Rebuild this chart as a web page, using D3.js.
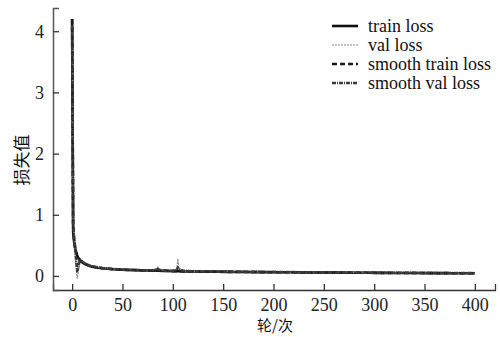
<!DOCTYPE html>
<html>
<head>
<meta charset="utf-8">
<script src="https://cdn.jsdelivr.net/npm/d3@7"></script>
<style>
  body { margin: 0; background: #fff; }
  svg { display: block; }
  .serif { font-family: "Liberation Serif", "Times New Roman", Tinos, "DejaVu Serif", serif; }
  .cjk { font-family: "Noto Sans CJK SC", "Noto Sans CJK JP", sans-serif; }
</style>
</head>
<body>
<script>
// * DATA
const epochs = [
  0, 1, 2, 3, 4, 5, 6, 7, 8, 9,
  10, 12, 14, 16, 18, 20, 25, 30, 35, 40,
  45, 50, 55, 60, 65, 70, 75, 80, 84, 85,
  86, 90, 95, 100, 104, 105, 106, 110, 115, 120,
  125, 130, 135, 140, 145, 150, 155, 160, 165, 170,
  175, 180, 185, 190, 195, 200, 205, 210, 215, 220,
  225, 230, 235, 240, 245, 250, 255, 260, 265, 270,
  275, 280, 285, 290, 295, 300, 305, 310, 315, 320,
  325, 330, 335, 340, 345, 350, 355, 360, 365, 370,
  375, 380, 385, 390, 395, 400
];

const trainLoss = [
  4.20, 0.72, 0.55, 0.45, 0.38, 0.33, 0.30, 0.27, 0.25, 0.235,
  0.22, 0.20, 0.185, 0.17, 0.16, 0.15, 0.135, 0.125, 0.118, 0.11,
  0.107, 0.102, 0.098, 0.096, 0.093, 0.091, 0.089, 0.087, 0.090, 0.088,
  0.086, 0.083, 0.081, 0.078, 0.080, 0.079, 0.077, 0.075, 0.074, 0.072,
  0.073, 0.070, 0.069, 0.070, 0.068, 0.067, 0.069, 0.066, 0.065, 0.066,
  0.064, 0.063, 0.064, 0.062, 0.061, 0.062, 0.060, 0.060, 0.059, 0.060,
  0.058, 0.057, 0.058, 0.056, 0.056, 0.055, 0.056, 0.054, 0.054, 0.053,
  0.054, 0.052, 0.052, 0.051, 0.052, 0.050, 0.050, 0.049, 0.050, 0.048,
  0.049, 0.048, 0.047, 0.048, 0.047, 0.046, 0.047, 0.046, 0.045, 0.046,
  0.045, 0.044, 0.045, 0.044, 0.044, 0.043
];

const valLoss = [
  4.10, 0.80, 0.60, 0.42, 0.15, -0.04, 0.05, 0.22, 0.28, 0.25,
  0.23, 0.21, 0.19, 0.175, 0.165, 0.155, 0.14, 0.128, 0.12, 0.112,
  0.108, 0.100, 0.101, 0.095, 0.094, 0.090, 0.092, 0.095, 0.12, 0.145,
  0.11, 0.088, 0.084, 0.080, 0.12, 0.28, 0.13, 0.080, 0.076, 0.074,
  0.075, 0.072, 0.071, 0.073, 0.070, 0.069, 0.075, 0.068, 0.067, 0.069,
  0.066, 0.065, 0.067, 0.064, 0.063, 0.064, 0.062, 0.063, 0.061, 0.062,
  0.060, 0.059, 0.061, 0.058, 0.058, 0.057, 0.059, 0.056, 0.056, 0.055,
  0.057, 0.054, 0.055, 0.053, 0.054, 0.052, 0.053, 0.051, 0.052, 0.050,
  0.051, 0.050, 0.049, 0.050, 0.049, 0.048, 0.049, 0.048, 0.047, 0.048,
  0.047, 0.046, 0.047, 0.046, 0.046, 0.045
];

const smoothTrainLoss = [
  4.20, 0.80, 0.58, 0.47, 0.39, 0.34, 0.30, 0.275, 0.255, 0.24,
  0.225, 0.205, 0.19, 0.175, 0.163, 0.153, 0.138, 0.127, 0.119, 0.112,
  0.107, 0.103, 0.099, 0.096, 0.094, 0.092, 0.090, 0.088, 0.087, 0.087,
  0.086, 0.084, 0.082, 0.080, 0.079, 0.079, 0.078, 0.076, 0.074, 0.073,
  0.072, 0.071, 0.070, 0.069, 0.068, 0.068, 0.067, 0.066, 0.066, 0.065,
  0.064, 0.064, 0.063, 0.062, 0.062, 0.061, 0.061, 0.060, 0.060, 0.059,
  0.058, 0.058, 0.057, 0.057, 0.056, 0.056, 0.055, 0.055, 0.054, 0.054,
  0.053, 0.053, 0.052, 0.052, 0.051, 0.051, 0.050, 0.050, 0.049, 0.049,
  0.049, 0.048, 0.048, 0.048, 0.047, 0.047, 0.047, 0.046, 0.046, 0.046,
  0.045, 0.045, 0.045, 0.044, 0.044, 0.044
];

const smoothValLoss = [
  4.10, 0.85, 0.62, 0.45, 0.25, 0.08, 0.12, 0.22, 0.26, 0.25,
  0.235, 0.212, 0.193, 0.178, 0.167, 0.157, 0.142, 0.13, 0.121, 0.114,
  0.109, 0.103, 0.100, 0.097, 0.095, 0.093, 0.093, 0.095, 0.105, 0.115,
  0.105, 0.092, 0.086, 0.082, 0.095, 0.14, 0.11, 0.088, 0.079, 0.076,
  0.075, 0.073, 0.072, 0.072, 0.071, 0.070, 0.071, 0.069, 0.068, 0.068,
  0.067, 0.066, 0.066, 0.065, 0.064, 0.064, 0.063, 0.063, 0.062, 0.062,
  0.061, 0.060, 0.060, 0.059, 0.059, 0.058, 0.058, 0.057, 0.057, 0.056,
  0.056, 0.055, 0.055, 0.054, 0.054, 0.053, 0.053, 0.052, 0.052, 0.051,
  0.051, 0.051, 0.050, 0.050, 0.049, 0.049, 0.049, 0.048, 0.048, 0.048,
  0.047, 0.047, 0.047, 0.046, 0.046, 0.046
];

const xTicks = [0, 50, 100, 150, 200, 250, 300, 350, 400];
const yTicks = [0, 1, 2, 3, 4];
const xTitle = "轮/次";
const yTitle = "损失值";

// * SETUP
const width = 500;
const height = 337;
const margin = { top: 8, right: 5, bottom: 47, left: 53 };

const x = d3.scaleLinear()
  .domain([-19, 420])
  .range([margin.left, width - margin.right]);

const y = d3.scaleLinear()
  .domain([-0.23, 4.38])
  .range([height - margin.bottom, margin.top]);

const series = [
  { name: "train loss", values: trainLoss, stroke: "#111", width: 2.6, dash: null },
  { name: "val loss", values: valLoss, stroke: "#8a8a8a", width: 1.2, dash: "2,1" },
  { name: "smooth train loss", values: smoothTrainLoss, stroke: "#1a1a1a", width: 2.6, dash: "5,3" },
  { name: "smooth val loss", values: smoothValLoss, stroke: "#3a3a3a", width: 2.6, dash: "4,1,1,1" }
];

const svg = d3.select("body")
  .append("svg")
  .attr("width", width)
  .attr("height", height)
  .attr("viewBox", [0, 0, width, height]);

// * LINES
const line = d3.line()
  .x((d, i) => x(epochs[i]))
  .y((d) => y(d));

svg.append("g")
  .selectAll("path")
  .data(series)
  .join("path")
  .attr("fill", "none")
  .attr("stroke", (d) => d.stroke)
  .attr("stroke-width", (d) => d.width)
  .attr("stroke-dasharray", (d) => d.dash)
  .attr("stroke-linejoin", "round")
  .attr("d", (d) => line(d.values));

// * AXES (ticks point inward, caps at the axis ends)
svg.append("g")
  .attr("transform", `translate(0,${height - margin.bottom})`)
  .call(d3.axisBottom(x).tickValues(xTicks).tickFormat(d3.format("d"))
    .tickSizeInner(-6).tickSizeOuter(-6).tickPadding(8))
  .call((g) => g.attr("font-family", null).attr("font-size", null))
  .call((g) => g.select(".domain").attr("stroke", "#333").attr("stroke-width", 1.3))
  .call((g) => g.selectAll(".tick line").attr("stroke", "#333").attr("stroke-width", 1.3))
  .call((g) => g.selectAll(".tick text")
    .attr("class", "serif")
    .attr("fill", "#222")
    .attr("font-size", 18));

svg.append("g")
  .attr("transform", `translate(${margin.left},0)`)
  .call(d3.axisLeft(y).tickValues(yTicks).tickFormat(d3.format("d"))
    .tickSizeInner(-6).tickSizeOuter(-6).tickPadding(9))
  .call((g) => g.attr("font-family", null).attr("font-size", null))
  .call((g) => g.select(".domain").attr("stroke", "#555").attr("stroke-width", 1.5))
  .call((g) => g.selectAll(".tick line").attr("stroke", "#333").attr("stroke-width", 1.3))
  .call((g) => g.selectAll(".tick text")
    .attr("class", "serif")
    .attr("fill", "#222")
    .attr("font-size", 18));

// * TITLES
svg.append("text")
  .attr("class", "cjk")
  .attr("x", 275)
  .attr("y", 331)
  .attr("text-anchor", "middle")
  .attr("font-size", 15)
  .attr("fill", "#111")
  .text(xTitle);

svg.append("text")
  .attr("class", "cjk")
  .attr("transform", "translate(28,160) rotate(-90)")
  .attr("text-anchor", "middle")
  .attr("font-size", 17)
  .attr("fill", "#111")
  .text(yTitle);

// * LEGEND
const legend = svg.append("g")
  .attr("transform", "translate(332,26)");

const rows = legend.selectAll("g")
  .data(series)
  .join("g")
  .attr("transform", (d, i) => `translate(0,${i * 19})`);

rows.append("line")
  .attr("x1", 0)
  .attr("x2", 26)
  .attr("stroke", (d) => d.stroke)
  .attr("stroke-width", (d) => d.width)
  .attr("stroke-dasharray", (d) => d.dash);

rows.append("text")
  .attr("class", "serif")
  .attr("x", 36)
  .attr("dy", "0.32em")
  .attr("font-size", 18)
  .attr("fill", "#111")
  .text((d) => d.name);
</script>
</body>
</html>
